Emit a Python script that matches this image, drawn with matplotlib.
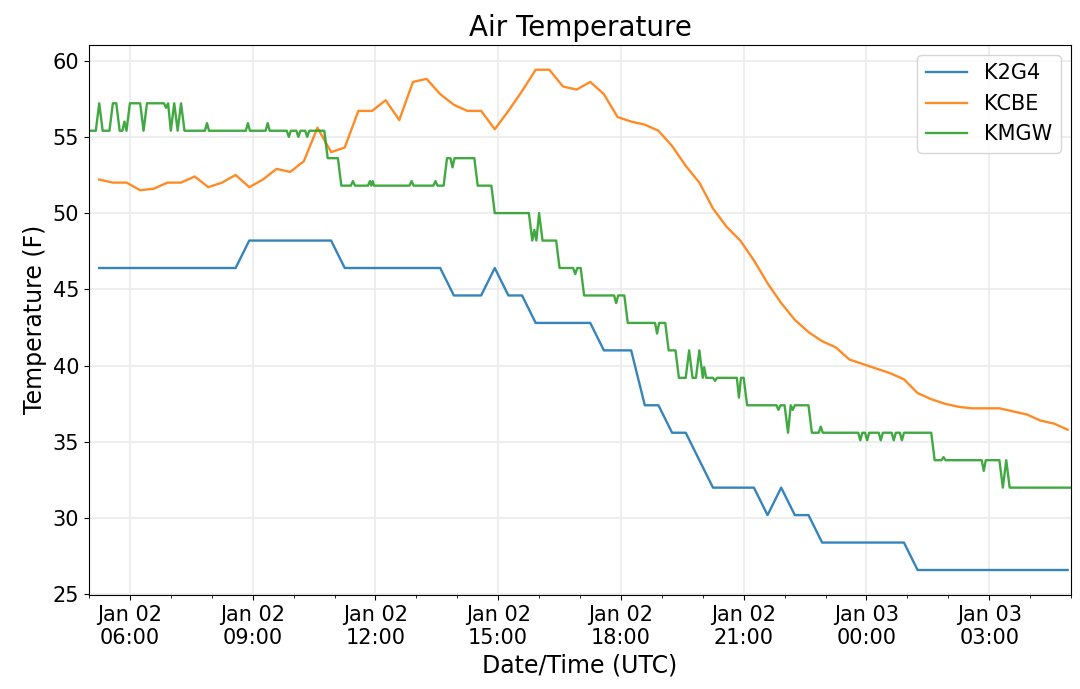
import pandas as pd
import matplotlib
matplotlib.use('Agg')
import matplotlib.pyplot as plt
import matplotlib.dates as mdates

start = pd.Timestamp('2021-01-02 05:00')

# K2G4 and KCBE report every 20 minutes starting 05:15
obs_times = pd.date_range('2021-01-02 05:15', periods=72, freq='20min')

k2g4 = [46.4, 46.4, 46.4, 46.4, 46.4, 46.4, 46.4, 46.4, 46.4, 46.4, 46.4,
        48.2, 48.2, 48.2, 48.2, 48.2, 48.2, 48.2,
        46.4, 46.4, 46.4, 46.4, 46.4, 46.4, 46.4, 46.4,
        44.6, 44.6, 44.6, 46.4, 44.6, 44.6,
        42.8, 42.8, 42.8, 42.8, 42.8,
        41.0, 41.0, 41.0, 37.4, 37.4, 35.6, 35.6, 33.8,
        32.0, 32.0, 32.0, 32.0, 30.2, 32.0, 30.2, 30.2,
        28.4, 28.4, 28.4, 28.4, 28.4, 28.4, 28.4,
        26.6, 26.6, 26.6, 26.6, 26.6, 26.6, 26.6, 26.6, 26.6, 26.6, 26.6, 26.6]

kcbe = [52.2, 52.0, 52.0, 51.5, 51.6, 52.0, 52.0, 52.4, 51.7, 52.0, 52.5, 51.7,
        52.2, 52.9, 52.7, 53.4, 55.6, 54.0, 54.3, 56.7, 56.7, 57.4, 56.1, 58.6,
        58.8, 57.8, 57.1, 56.7, 56.7, 55.5, 56.7, 58.0, 59.4, 59.4, 58.3, 58.1,
        58.6, 57.8, 56.3, 56.0, 55.8, 55.4, 54.4, 53.1, 52.0, 50.3, 49.1, 48.2,
        46.9, 45.4, 44.1, 43.0, 42.2, 41.6, 41.2, 40.4, 40.1, 39.8, 39.5, 39.1,
        38.2, 37.8, 37.5, 37.3, 37.2, 37.2, 37.2, 37.0, 36.8, 36.4, 36.2, 35.8]

# KMGW reports every few minutes: minutes after 05:00 UTC and temperature
kmgw_min = [0, 10, 15, 20, 30, 35, 40, 45, 49, 52, 55, 60, 75, 80, 85, 110, 113, 116,
            120, 125, 130, 135, 140, 170, 173, 176, 230, 233, 236, 259, 262, 265,
            290, 293, 296, 304, 307, 310, 317, 320, 323, 345, 350, 365, 370,
            384, 387, 390, 409, 412, 414, 416, 418, 470, 473, 476, 505, 508, 511,
            520, 525, 530, 533, 536, 565, 570, 590, 595, 645, 650, 653, 656, 660,
            665, 685, 690, 710, 713, 716, 721, 726, 770, 773, 776, 785, 790,
            830, 833, 836, 845, 850, 860, 865, 875, 880, 885, 890, 895, 900, 902,
            905, 915, 918, 921, 950, 953, 956, 960, 965, 1008, 1011, 1014, 1020,
            1025, 1029, 1032, 1035, 1055, 1060, 1070, 1073, 1076, 1128, 1131, 1134,
            1138, 1141, 1144, 1158, 1161, 1164, 1177, 1180, 1183, 1189, 1192, 1195,
            1235, 1240, 1250, 1253, 1256, 1309, 1312, 1315, 1335, 1340, 1345, 1350,
            1440]
kmgw = [55.4, 55.4, 57.2, 55.4, 55.4, 57.2, 57.2, 55.4, 55.4, 56.0, 55.4, 57.2, 57.2,
        55.4, 57.2, 57.2, 56.9, 57.2,
        55.4, 57.2, 55.4, 57.2, 55.4, 55.4, 55.9, 55.4, 55.4, 55.9, 55.4, 55.4, 55.9, 55.4,
        55.4, 55.0, 55.4, 55.4, 55.0, 55.4, 55.4, 55.0, 55.4, 55.4, 53.6, 53.6, 51.8,
        51.8, 52.1, 51.8, 51.8, 52.1, 51.8, 52.1, 51.8, 51.8, 52.1, 51.8, 51.8, 52.1, 51.8,
        51.8, 53.6, 53.6, 53.0, 53.6, 53.6, 51.8, 51.8, 50.0, 50.0, 48.2, 48.9, 48.2, 50.0,
        48.2, 48.2, 46.4, 46.4, 46.0, 46.4, 46.4, 44.6, 44.6, 44.1, 44.6, 44.6, 42.8,
        42.8, 42.1, 42.8, 42.8, 41.0, 41.0, 39.2, 39.2, 41.0, 39.2, 39.2, 41.0, 39.2, 39.9,
        39.2, 39.2, 39.0, 39.2, 39.2, 37.9, 39.2, 39.2, 37.4, 37.4, 37.1, 37.4, 37.4,
        35.6, 37.4, 37.1, 37.4, 37.4, 35.6, 35.6, 36.0, 35.6, 35.6, 35.1, 35.6,
        35.6, 35.1, 35.6, 35.6, 35.1, 35.6, 35.6, 35.1, 35.6, 35.6, 35.1, 35.6,
        35.6, 33.8, 33.8, 34.0, 33.8, 33.8, 33.1, 33.8, 33.8, 32.0, 33.8, 32.0,
        32.0]
kmgw_times = start + pd.to_timedelta(kmgw_min, unit='min')

fig = plt.figure(figsize=(10.8, 6.89), dpi=100)
ax = fig.add_axes([0.0824, 0.1364, 0.9093, 0.7987])

ax.plot(obs_times, k2g4, color='#1f77b4', lw=1.7, alpha=0.9, label='K2G4')
ax.plot(obs_times, kcbe, color='#ff7f0e', lw=1.7, alpha=0.9, label='KCBE')
ax.plot(kmgw_times, kmgw, color='#2ca02c', lw=1.7, alpha=0.9, label='KMGW')

ax.set_xlim(start, start + pd.Timedelta(hours=24))
ax.xaxis.set_major_locator(mdates.HourLocator(byhour=range(0, 24, 3)))
ax.xaxis.set_minor_locator(mdates.HourLocator())
ax.xaxis.set_major_formatter(mdates.DateFormatter('%b %d\n%H:%M'))

ax.grid(True, which='major', color='#ebebeb', lw=1.2)
ax.set_axisbelow(True)
ax.tick_params(labelsize=15)

ax.set_title('Air Temperature', fontsize=20)
ax.set_xlabel('Date/Time (UTC)', fontsize=17)
ax.set_ylabel('Temperature (F)', fontsize=17)
ax.legend(loc='upper right', fontsize=15)

fig.savefig('out.png', dpi=100)
